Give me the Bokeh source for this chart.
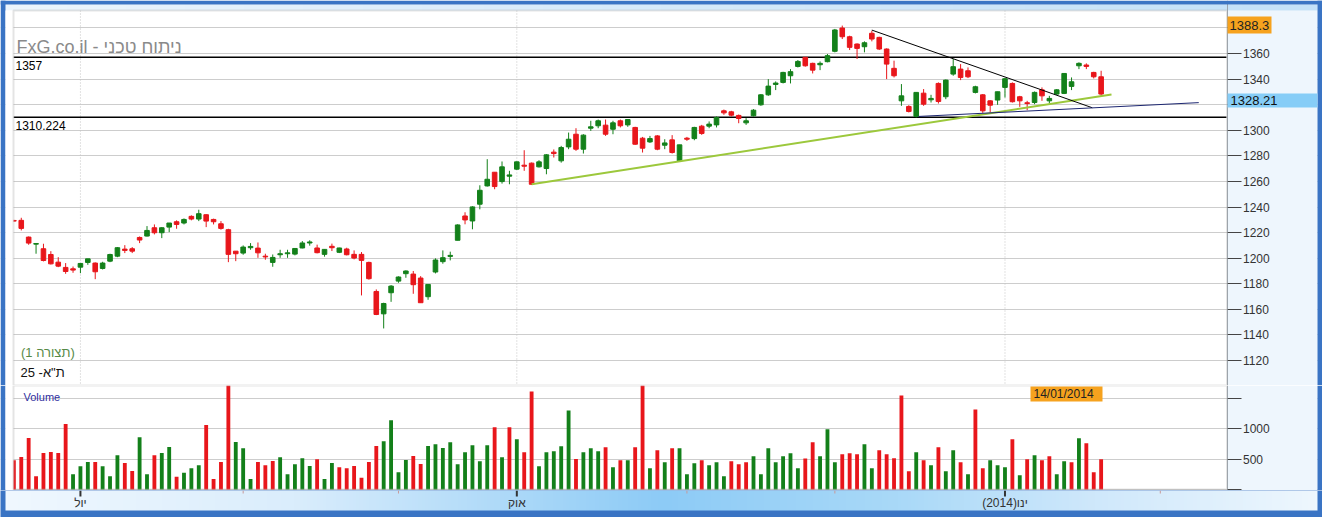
import numpy as np
from bokeh.plotting import figure
from bokeh.layouts import column
from bokeh.models import Range1d, FixedTicker, Label, LinearAxis, Grid, BoxAnnotation
from bokeh.embed import file_html
from bokeh.resources import INLINE
from bokeh.core.properties import value

# ---------------- data (TA-25 daily, mid-June 2013 .. Jan 2014) ----------------
open_ = [1229.5, 1229.6, 1216.5, 1211.0, 1207.4, 1202.9, 1196.9, 1192.8, 1191.7, 1193.0,
         1196.7, 1196.2, 1192.0, 1197.7, 1201.6, 1207.1, 1207.4, 1216.2, 1217.3, 1223.8,
         1219.9, 1224.3, 1228.5, 1227.5, 1232.7, 1230.6, 1234.0, 1230.3, 1226.9, 1222.3,
         1205.5, 1204.0, 1208.2, 1207.9, 1201.6, 1196.7, 1202.7, 1203.5, 1203.2, 1208.0,
         1211.9, 1208.0, 1203.0, 1209.3, 1204.6, 1207.2, 1203.0, 1203.0, 1196.7, 1174.0,
         1156.5, 1173.0, 1182.1, 1187.9, 1187.6, 1184.5, 1169.9, 1189.2, 1197.3, 1201.4,
         1214.0, 1233.0, 1229.1, 1242.2, 1256.5, 1267.2, 1259.9, 1264.1, 1269.6, 1272.7,
         1274.3, 1271.4, 1270.1, 1282.9, 1276.1, 1287.0, 1296.9, 1285.2, 1301.6, 1303.5,
         1304.0, 1300.8, 1307.4, 1304.2, 1302.2, 1293.8, 1290.9, 1295.6, 1288.3, 1292.5,
         1276.1, 1293.8, 1293.5, 1303.2, 1303.2, 1304.2, 1315.2, 1314.4, 1311.6, 1305.8,
         1311.3, 1319.9, 1327.7, 1335.8, 1337.4, 1342.6, 1349.9, 1357.0, 1352.3, 1351.2,
         1353.6, 1361.7, 1379.9, 1373.1, 1367.4, 1365.3, 1375.8, 1372.6, 1363.5, 1348.4,
         1323.0, 1318.6, 1310.8, 1329.0, 1323.8, 1336.6, 1326.2, 1343.9, 1347.8, 1346.5,
         1329.6, 1327.7, 1323.0, 1323.6, 1333.5, 1336.6, 1326.2, 1321.5, 1321.7, 1331.6,
         1323.0, 1328.3, 1328.8, 1334.3, 1350.4, 1351.0, 1345.2, 1341.8]

high = [1230.0, 1231.6, 1217.0, 1211.8, 1211.3, 1205.5, 1200.8, 1196.2, 1193.5, 1195.9,
        1199.5, 1196.7, 1197.2, 1203.5, 1208.7, 1210.2, 1208.7, 1217.0, 1225.1, 1226.4,
        1224.3, 1227.5, 1229.6, 1231.1, 1233.5, 1237.9, 1234.3, 1230.9, 1229.0, 1223.0,
        1205.5, 1210.0, 1211.8, 1212.3, 1203.5, 1202.9, 1206.6, 1206.6, 1207.6, 1213.4,
        1214.0, 1210.6, 1206.9, 1211.4, 1208.2, 1208.2, 1206.1, 1204.8, 1197.3, 1175.6,
        1165.2, 1179.0, 1185.8, 1190.5, 1190.0, 1186.0, 1179.5, 1199.9, 1206.1, 1205.1,
        1226.5, 1235.9, 1240.6, 1257.0, 1277.4, 1267.2, 1275.6, 1268.3, 1275.6, 1284.4,
        1274.8, 1276.6, 1281.3, 1285.0, 1287.8, 1298.2, 1301.6, 1296.9, 1307.4, 1308.4,
        1308.4, 1307.4, 1308.4, 1308.4, 1302.7, 1294.8, 1295.6, 1296.2, 1293.0, 1296.2,
        1288.6, 1294.8, 1302.7, 1304.2, 1306.9, 1310.8, 1316.2, 1315.2, 1312.3, 1309.5,
        1316.5, 1328.3, 1340.0, 1338.2, 1345.7, 1347.8, 1354.9, 1357.0, 1352.8, 1353.8,
        1359.6, 1379.2, 1381.8, 1373.9, 1367.9, 1369.5, 1377.8, 1373.1, 1364.0, 1354.4,
        1336.1, 1319.6, 1329.6, 1332.2, 1327.7, 1337.4, 1339.7, 1355.7, 1351.7, 1349.1,
        1334.8, 1328.3, 1323.6, 1330.1, 1340.8, 1337.4, 1326.9, 1323.0, 1330.3, 1333.5,
        1326.9, 1332.2, 1344.4, 1341.3, 1353.1, 1352.3, 1345.7, 1346.5]

low = [1228.5, 1221.7, 1210.5, 1203.5, 1197.5, 1195.1, 1193.0, 1187.8, 1188.6, 1188.3,
       1194.8, 1183.6, 1191.2, 1196.9, 1200.8, 1204.0, 1204.0, 1211.8, 1217.0, 1218.6,
       1215.7, 1220.4, 1223.0, 1226.4, 1229.6, 1229.0, 1224.3, 1226.4, 1222.3, 1196.9,
       1197.7, 1202.7, 1206.6, 1200.3, 1198.8, 1193.3, 1200.3, 1200.3, 1202.2, 1207.7,
       1209.8, 1203.8, 1201.2, 1205.6, 1204.0, 1202.2, 1199.1, 1170.9, 1183.2, 1155.5,
       1145.1, 1165.9, 1180.8, 1184.7, 1172.2, 1165.2, 1167.5, 1188.1, 1195.7, 1198.3,
       1214.0, 1226.5, 1222.6, 1238.2, 1256.0, 1253.9, 1258.3, 1257.8, 1269.0, 1268.3,
       1257.3, 1270.9, 1265.6, 1278.7, 1274.7, 1285.2, 1283.9, 1281.8, 1299.5, 1301.6,
       1295.6, 1296.9, 1302.2, 1302.7, 1288.6, 1282.6, 1290.1, 1284.4, 1285.2, 1281.8,
       1275.5, 1291.7, 1292.2, 1296.4, 1301.6, 1302.2, 1312.1, 1310.8, 1305.5, 1304.2,
       1310.8, 1319.1, 1326.9, 1331.4, 1336.6, 1336.6, 1349.1, 1349.7, 1344.4, 1347.0,
       1353.1, 1360.9, 1371.3, 1362.7, 1355.7, 1360.9, 1369.5, 1362.7, 1340.0, 1341.3,
       1319.1, 1313.9, 1310.0, 1319.1, 1321.7, 1320.9, 1324.3, 1342.6, 1339.2, 1340.8,
       1328.8, 1313.6, 1313.9, 1319.9, 1325.6, 1321.7, 1318.3, 1315.7, 1320.4, 1323.0,
       1320.9, 1327.7, 1328.3, 1331.4, 1347.8, 1347.8, 1340.5, 1326.9]

close = [1229.0, 1223.3, 1211.8, 1211.5, 1198.2, 1195.6, 1193.8, 1189.6, 1190.7, 1195.9,
         1199.5, 1189.4, 1196.2, 1202.9, 1208.2, 1206.1, 1205.5, 1214.2, 1221.7, 1219.9,
         1223.8, 1227.5, 1226.4, 1230.3, 1230.6, 1234.8, 1229.0, 1228.5, 1223.3, 1203.0,
         1203.5, 1208.7, 1209.2, 1204.2, 1201.0, 1200.6, 1203.5, 1204.2, 1207.6, 1211.9,
         1212.7, 1204.3, 1206.9, 1208.2, 1208.0, 1202.7, 1200.1, 1198.3, 1184.0, 1156.0,
         1164.6, 1178.2, 1185.3, 1190.0, 1179.3, 1165.2, 1179.5, 1198.6, 1200.4, 1202.2,
         1226.0, 1229.9, 1240.1, 1253.1, 1261.7, 1256.0, 1271.4, 1265.1, 1275.3, 1271.9,
         1257.8, 1275.3, 1280.8, 1281.8, 1286.5, 1293.0, 1285.2, 1296.2, 1302.7, 1307.4,
         1296.9, 1305.8, 1303.5, 1308.4, 1289.1, 1286.0, 1293.5, 1285.2, 1290.1, 1282.6,
         1288.6, 1293.0, 1302.2, 1297.5, 1304.8, 1310.0, 1313.6, 1311.8, 1309.2, 1307.4,
         1315.7, 1327.7, 1334.5, 1336.9, 1345.2, 1345.8, 1353.8, 1350.4, 1347.0, 1352.3,
         1358.3, 1378.4, 1373.1, 1364.8, 1364.0, 1368.4, 1371.3, 1363.5, 1351.7, 1342.6,
         1326.9, 1314.7, 1329.6, 1320.4, 1324.9, 1322.5, 1339.2, 1349.7, 1341.3, 1341.8,
         1334.0, 1315.2, 1319.6, 1330.1, 1340.3, 1322.3, 1323.0, 1320.9, 1329.6, 1326.9,
         1324.9, 1331.6, 1344.4, 1337.9, 1352.3, 1349.9, 1341.8, 1328.3]

volume = [480, 534, 845, 218, 600, 616, 600, 1074, 251, 382,
          452, 452, 382, 218, 561, 436, 305, 856, 251, 561,
          600, 698, 207, 273, 349, 398, 1057, 174, 452, 1720,
          779, 676, 174, 452, 398, 469, 529, 251, 414, 512,
          387, 496, 174, 436, 365, 349, 387, 191, 452, 714,
          790, 1134, 283, 485, 550, 420, 714, 741, 681, 774,
          414, 610, 725, 463, 725, 1019, 529, 1019, 823, 610,
          1608, 382, 610, 627, 708, 1297, 501, 610, 676, 627,
          692, 365, 480, 480, 692, 1720, 349, 643, 447, 676,
          676, 251, 431, 480, 398, 447, 218, 463, 414, 447,
          545, 251, 676, 447, 545, 594, 349, 510, 774, 545,
          986, 447, 578, 594, 578, 741, 349, 643, 578, 512,
          1542, 300, 610, 480, 398, 692, 300, 643, 447, 251,
          1313, 349, 480, 398, 365, 823, 234, 496, 561, 480,
          545, 251, 463, 447, 839, 758, 283, 496]

month_major_idx = [9, 68, 134]
month_major_lbl = ["יול", "אוק", "(2014)ינו"]
month_minor_idx = [31, 52, 91, 111, 155]

levels = [1357, 1310.224]
level_labels = ["1357", "1310.224"]

trend_green_x = [70, 148.4]
trend_green_y = [1257.8, 1328.0]
trend_black_x = [116, 145.8]
trend_black_y = [1378.3, 1317.6]
trend_navy_x = [122.3, 160.2]
trend_navy_y = [1310.8, 1321.6]

price_ticks = list(range(1100, 1381, 20))
vol_ticks = [0, 500, 1000, 1500]

top_price_text = "1388.3"
last_price_text = "1328.21"
cursor_date_text = "14/01/2014"

# ---------------- styling / layout helpers ----------------
RED = "#E8161B"
GREEN = "#13801A"
PANEL = "#EEF6FD"
EDGE = "#3A74C4"
FONT = "Liberation Sans"
W_PX = 1322

s = 1213 / 164.0                      # px per trading day


def X(px):                            # page pixel -> day index
    return (px - 13.0) / s - 0.05


def Y(py):                            # page pixel -> price
    return 1360 - (py - 53.0) / 1.2794


def VY(py):                           # page pixel -> volume
    return (489.0 - py) * 500.0 / 30.5


n = len(close)
idx = list(range(n))
candle_color = [GREEN if c >= o else RED for o, c in zip(open_, close)]
vol_color = [RED] + [GREEN if close[i] > close[i - 1] else RED for i in range(1, n)]
body_top = [max(o, c) for o, c in zip(open_, close)]
body_bot = [min(o, c) for o, c in zip(open_, close)]

XR = Range1d(X(0), X(W_PX))


def drop_default_grids(fig):
    fig.center = [r for r in fig.center if not isinstance(r, Grid)]


def gradient(stops, cols, w=400):
    t = np.linspace(0, 1, w)
    img = np.zeros((1, w), dtype=np.uint32)
    view = img.view(dtype=np.uint8).reshape((1, w, 4))
    cols = np.array(cols, dtype=float)
    for ch in range(3):
        view[0, :, ch] = np.interp(t, stops, cols[:, ch]).astype(np.uint8)
    view[0, :, 3] = 255
    return img


def box(l, r, b, t, color, level="annotation", **kw):
    return BoxAnnotation(left=l, right=r, bottom=b, top=t, fill_color=color, fill_alpha=1,
                         line_color=None, level=level, **kw)


def style_axis(a, ticks, overrides):
    a.ticker = FixedTicker(ticks=ticks)
    a.major_label_overrides = overrides
    a.major_tick_out = 14
    a.major_tick_in = 0
    a.minor_tick_line_color = None
    a.axis_line_color = "#9AA4AE"
    a.major_tick_line_color = "#444444"
    a.major_label_text_font = FONT
    a.major_label_text_font_size = "12px"
    a.major_label_text_color = "#333333"
    a.major_label_standoff = 2


# ---------------- price panel (page y 0..385) ----------------
p = figure(width=W_PX, height=385, x_range=XR, y_range=Range1d(Y(385), Y(0)),
           output_backend="svg", toolbar_location=None,
           x_axis_location=None, y_axis_location=None, min_border=0,
           background_fill_color="white", border_fill_color="white", outline_line_color=None)
drop_default_grids(p)
p.add_layout(Grid(dimension=1, ticker=FixedTicker(ticks=price_ticks), grid_line_color="#CDCDCD"))
p.add_layout(box(X(1227), X(1317), Y(385), Y(10), PANEL, level="underlay"))

# month dotted lines, level lines
p.segment(x0=month_major_idx, y0=[Y(10)] * 3, x1=month_major_idx, y1=[Y(385)] * 3,
          line_color="#C4C4C4", line_dash="1 2", line_width=1)
p.segment(x0=[X(13)] * 2, y0=levels, x1=[X(1226)] * 2, y1=levels,
          line_color="black", line_width=1.5)

# candles
p.segment(x0=idx, y0=high, x1=idx, y1=low, line_color=candle_color, line_width=1)
p.vbar(x=idx, width=0.62, top=body_top, bottom=body_bot,
       fill_color=candle_color, line_color=candle_color, line_width=1)

# trend lines
p.line(trend_green_x, trend_green_y, line_color="#9CC83C", line_width=2)
p.line(trend_black_x, trend_black_y, line_color="black", line_width=1)
p.line(trend_navy_x, trend_navy_y, line_color="#1C2670", line_width=1)

# top band
p.image_rgba(image=[gradient([0, 0.5, 1], [(236, 245, 253), (214, 234, 250), (196, 225, 248)])],
             x=X(5), y=Y(10), dw=X(1317) - X(5), dh=Y(4) - Y(10))

# frame edges
p.add_layout(box(X(0), X(5), Y(385), Y(0), EDGE))
p.add_layout(box(X(5), X(13), Y(385), Y(10), "white"))
p.add_layout(box(X(1317), X(W_PX), Y(385), Y(0), EDGE))
p.add_layout(box(X(0), X(W_PX), Y(4), Y(0), EDGE))
p.add_layout(BoxAnnotation(left=X(13), right=X(1226.5), top=Y(10), bottom=Y(385),
                           fill_alpha=0, line_color="#A6A6A6", line_width=2))

pax = LinearAxis(fixed_location=X(1226.5))
style_axis(pax, price_ticks, {1100: "", 1320: "", 1380: ""})
p.add_layout(pax, "right")

# texts
p.add_layout(Label(x=X(16), y=Y(46.1), text="FxG.co.il - ניתוח טכני", text_font=FONT,
                   text_font_size="18px", text_color="#8A8A8A", text_baseline="middle"))
p.add_layout(Label(x=X(15), y=Y(64.9), text=level_labels[0], text_font=FONT,
                   text_font_size="12px", text_color="black", text_baseline="middle"))
p.add_layout(Label(x=X(15), y=Y(125.2), text=level_labels[1], text_font=FONT,
                   text_font_size="12px", text_color="black", text_baseline="middle"))
p.add_layout(Label(x=X(20.5), y=Y(352), text="(תצורה 1)", text_font=FONT,
                   text_font_size="13px", text_color="#568A46", text_baseline="middle"))
p.add_layout(Label(x=X(20), y=Y(372.2), text='ת"א- 25', text_font=FONT,
                   text_font_size="13px", text_color="#111111", text_baseline="middle"))

p.add_layout(box(X(1227), X(1271), Y(33), Y(16), "#F6A21E"))
p.add_layout(Label(x=X(1229), y=Y(24.5), text=top_price_text, text_font=FONT,
                   text_font_size="13px", text_color="#222222", text_baseline="middle"))
p.add_layout(box(X(1227), X(1317), Y(107), Y(93), "#86CDF7"))
p.add_layout(Label(x=X(1230), y=Y(100), text=last_price_text, text_font=FONT,
                   text_font_size="13px", text_color="#111111", text_baseline="middle"))

# ---------------- volume panel (page y 385..490) ----------------
v = figure(width=W_PX, height=105, x_range=XR, y_range=Range1d(VY(490), VY(385)),
           output_backend="svg", toolbar_location=None,
           x_axis_location=None, y_axis_location=None, min_border=0,
           background_fill_color="white", border_fill_color="white", outline_line_color=None)
drop_default_grids(v)
v.add_layout(Grid(dimension=1, ticker=FixedTicker(ticks=vol_ticks), grid_line_color="#CDCDCD"))
v.add_layout(box(X(1227), X(1317), VY(490), VY(385), PANEL, level="underlay"))

v.vbar(x=idx, width=0.52, top=volume, bottom=0, fill_color=vol_color, line_color=None)

v.add_layout(box(X(0), X(5), VY(490), VY(385), EDGE))
v.add_layout(box(X(5), X(13), VY(490), VY(385), "white"))
v.add_layout(box(X(1317), X(W_PX), VY(490), VY(385), EDGE))
v.add_layout(BoxAnnotation(left=X(13), right=X(1226.5), top=VY(385), bottom=VY(489),
                           fill_alpha=0, line_color="#A6A6A6", line_width=2))

vax = LinearAxis(fixed_location=X(1226.5))
style_axis(vax, vol_ticks, {0: "", 1500: ""})
v.add_layout(vax, "right")

v.add_layout(Label(x=X(23), y=VY(396.9), text="Volume", text_font=FONT, text_font_size="11px",
                   text_color="#2E2E9E", text_baseline="middle"))
v.add_layout(box(X(1030), X(1102), VY(401), VY(386), "#F6A21E"))
v.add_layout(Label(x=X(1033), y=VY(393.5), text=cursor_date_text, text_font=FONT,
                   text_font_size="12px", text_color="#222222", text_baseline="middle"))

# ---------------- date band (page y 490..517) ----------------
b = figure(width=W_PX, height=27, x_range=Range1d(X(0), X(W_PX)), y_range=Range1d(0, 27),
           output_backend="svg", toolbar_location=None,
           x_axis_location=None, y_axis_location=None, min_border=0,
           outline_line_color=None, background_fill_color=EDGE, border_fill_color=EDGE)
drop_default_grids(b)
b.image_rgba(image=[gradient([0.0, 0.22, 0.5, 0.68, 0.83, 1.0],
                             [(240, 248, 255), (218, 237, 252), (141, 203, 246),
                              (169, 217, 248), (207, 232, 251), (238, 247, 254)])],
             x=X(5), y=7, dw=X(1317) - X(5), dh=20)
b.segment(x0=month_major_idx, y0=[27] * 3, x1=month_major_idx, y1=[21] * 3,
          line_color="#333333", line_width=2)
b.segment(x0=month_minor_idx, y0=[27] * 5, x1=month_minor_idx, y1=[24] * 5,
          line_color="#C89A9A", line_width=1)
b.text(x=month_major_idx, y=[14.5] * 3, text=month_major_lbl, text_align="center",
       text_baseline="middle", text_font=value(FONT), text_font_size="12px",
       text_color="#333333")

layout = column(p, v, b, spacing=0)
open("out.html", "w").write(file_html(layout, INLINE))
